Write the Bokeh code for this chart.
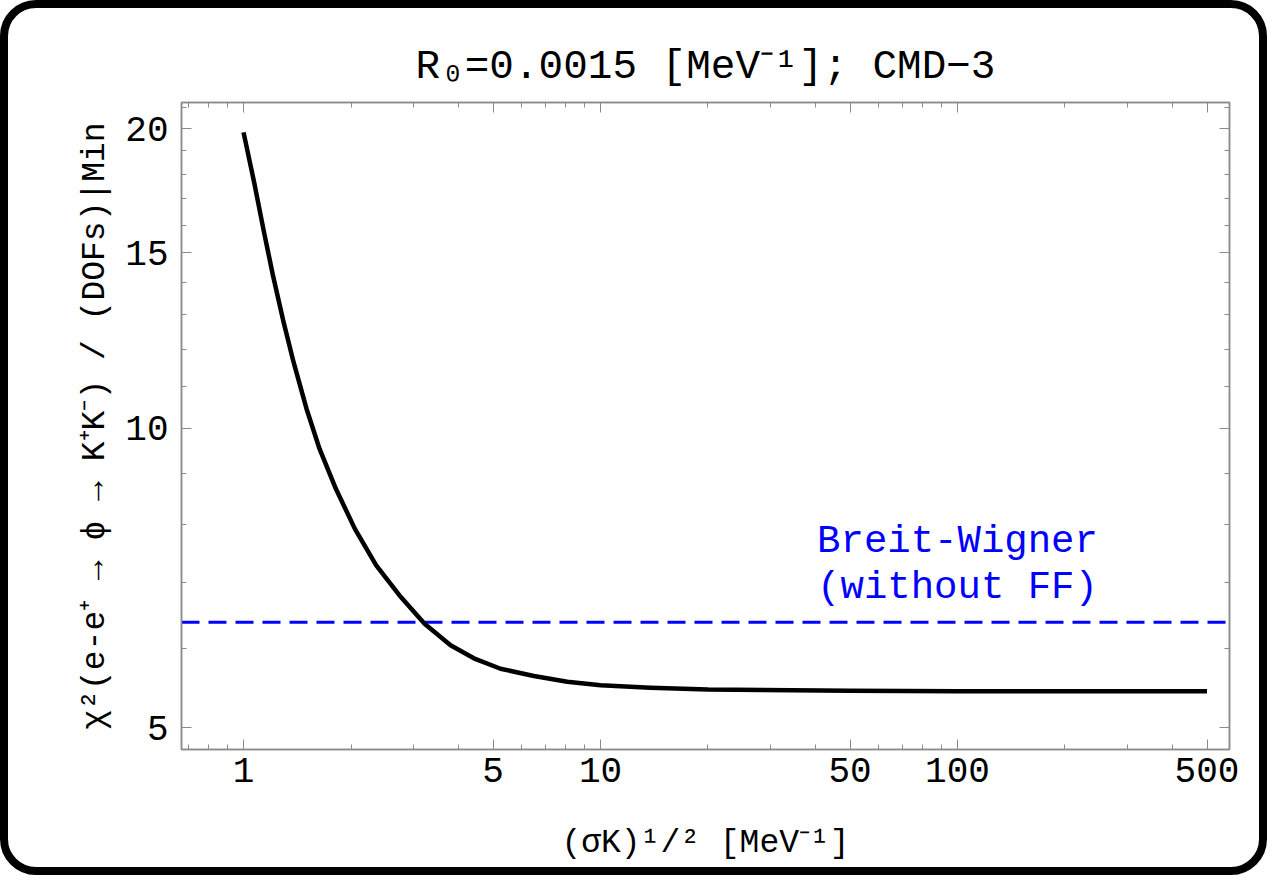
from bokeh.plotting import figure
from bokeh.models import Range1d, FixedTicker, LogAxis
from bokeh.core.properties import value
from bokeh.embed import file_html
from bokeh.resources import INLINE

# ---------------- data ----------------
sigma_sqrt = [1.0, 1.071, 1.141, 1.209, 1.295, 1.381, 1.501, 1.633, 1.814, 2.051, 2.353,
              2.735, 3.214, 3.801, 4.418, 5.247, 6.506, 8.07, 10.0, 13.8, 20.0, 50.0,
              100.0, 200.0, 500.0]
chi2_dof = [19.83, 17.66, 15.74, 14.24, 12.78, 11.65, 10.46, 9.53, 8.69, 7.92, 7.28,
            6.79, 6.36, 6.05, 5.87, 5.73, 5.635, 5.56, 5.515, 5.483, 5.46, 5.445,
            5.44, 5.44, 5.44]
bw_level = 6.38

x_major = [1, 5, 10, 50, 100, 500]
x_tick_labels = ["1", "5", "10", "50", "100", "500"]
x_minor = [0.7, 0.8, 0.9, 2, 3, 4, 6, 7, 8, 9, 20, 30, 40, 60, 70, 80, 90, 200, 300, 400]
y_major = [5, 10, 15, 20]
y_tick_labels = ["5", "10", "15", "20"]
y_minor = [6, 7, 8, 9, 11, 12, 13, 14, 16, 17, 18, 19, 21]

annot_x = [100, 100]
annot_y = [7.69, 6.90]
annot_text = ["Breit-Wigner", "(without FF)"]

title_text = "R\u2080=0.0015 [MeV\u207b\u00b9]; CMD\u22123"
x_label = "(\u03c3K)\u00b9/\u00b2 [MeV\u207b\u00b9]"
y_label = "\u03c7\u00b2(e-e\u207a \u2192 \u03d5 \u2192 K\u207aK\u207b) / (DOFs)|Min"

x_lo, x_hi = 0.6702, 578.0
y_lo, y_hi = 4.753, 21.25

# ---------------- styling ----------------
MONO = "Liberation Mono"
GRAY = "#8a8a8a"
BORDER = 8
W, H = 1267, 875
FL, FR, FT, FB = 173, 46, 94, 134   # frame margins inside canvas

p = figure(width=W, height=H, x_axis_type="log", y_axis_type="log",
           x_range=Range1d(x_lo, x_hi), y_range=Range1d(y_lo, y_hi),
           output_backend="svg", toolbar_location=None,
           min_border_left=FL, min_border_right=FR, min_border_top=FT, min_border_bottom=FB)
p.styles = {"border": f"{BORDER}px solid black", "border-radius": "36px"}
p.border_fill_color = None
p.background_fill_color = "white"
p.outline_line_color = GRAY
p.outline_line_width = 1.5
p.xgrid.grid_line_color = None
p.ygrid.grid_line_color = None

xt = FixedTicker(ticks=x_major, minor_ticks=x_minor)
yt = FixedTicker(ticks=y_major, minor_ticks=y_minor)
bottom = p.below[0]
left = p.left[0]
top = LogAxis(ticker=xt)
right = LogAxis(ticker=yt)
p.add_layout(top, "above")
p.add_layout(right, "right")

for ax in (bottom, left, top, right):
    ax.axis_line_color = GRAY
    ax.axis_line_width = 1.5
    ax.major_tick_line_color = GRAY
    ax.minor_tick_line_color = GRAY
    ax.major_tick_in = 10
    ax.major_tick_out = 0
    ax.minor_tick_in = 5
    ax.minor_tick_out = 0
    ax.major_label_text_font = MONO
    ax.major_label_text_font_size = "36px"
    ax.major_label_text_color = "black"

bottom.ticker = xt
left.ticker = yt
bottom.major_label_overrides = {v: s for v, s in zip(x_major, x_tick_labels)}
left.major_label_overrides = {v: s for v, s in zip(y_major, y_tick_labels)}
bottom.major_label_standoff = 8
left.major_label_standoff = 13
for ax in (top, right):
    ax.major_label_text_font_size = "1px"
    ax.major_label_text_alpha = 0
    ax.major_label_standoff = 0

bottom.axis_label = x_label
bottom.axis_label_text_font = MONO
bottom.axis_label_text_font_size = "33px"
bottom.axis_label_text_font_style = "normal"
bottom.axis_label_text_color = "black"
bottom.axis_label_standoff = 40

left.axis_label = y_label
left.axis_label_text_font = MONO
left.axis_label_text_font_size = "33px"
left.axis_label_text_font_style = "normal"
left.axis_label_text_color = "black"
left.axis_label_standoff = 8

p.title.text = title_text
p.title.text_font = MONO
p.title.text_font_size = "41px"
p.title.text_font_style = "normal"
p.title.text_color = "black"
p.title.align = "center"
p.title.standoff = 26

# ---------------- glyphs ----------------
p.line(x=[x_lo, x_hi], y=[bw_level, bw_level], line_color="#0000ff",
       line_width=3, line_dash="18 9")
p.line(x=sigma_sqrt, y=chi2_dof, line_color="black", line_width=4.5,
       line_join="round")
p.text(x=annot_x, y=annot_y, text=annot_text, text_font=value(MONO),
       text_font_size="39px", text_color="#0000ff", text_align="center",
       text_baseline="middle")

open("out.html", "w").write(file_html(p, INLINE))
